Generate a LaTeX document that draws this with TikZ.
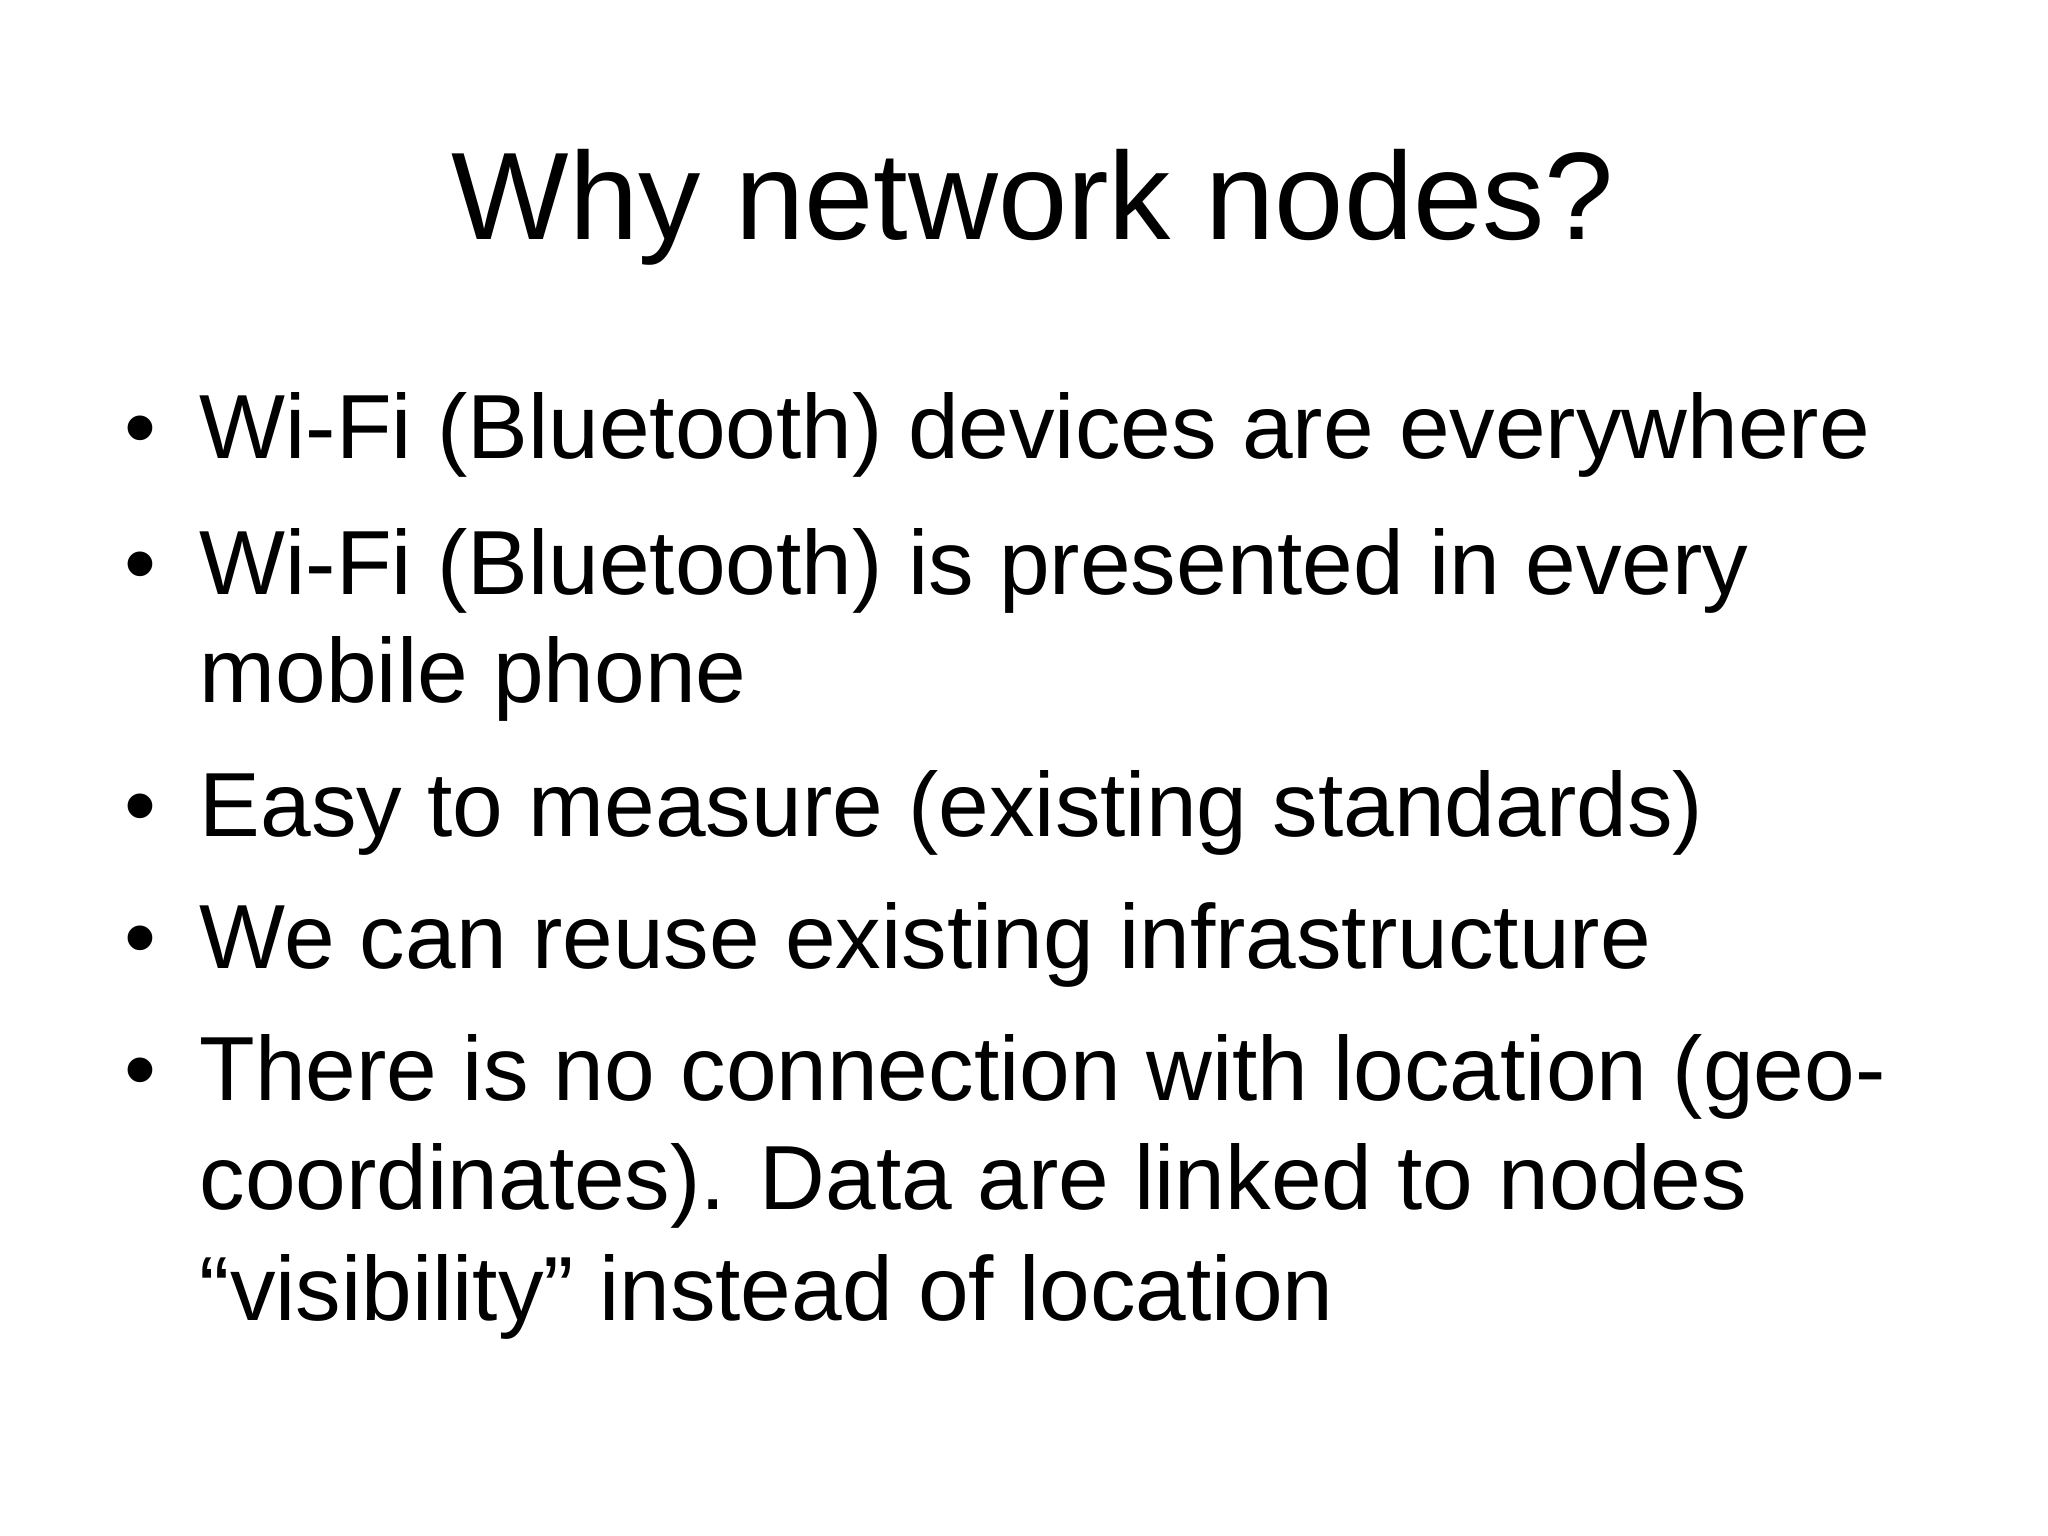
\documentclass[tikz,border=0pt]{standalone}
\usepackage{fontspec}
\setmainfont{Liberation Sans}
\begin{document}
\begin{tikzpicture}[x=0.01cm,y=0.01cm,
  ln/.style={anchor=base west,inner sep=0pt,font=\fontsize{25.9pt}{30pt}\selectfont},
  bul/.style={anchor=base west,inner sep=0pt,font=\fontsize{25.9pt}{30pt}\selectfont}]
\useasboundingbox[fill=white] (0,0) rectangle (2048,1536);
\node[anchor=base,inner sep=0pt,font=\fontsize{35.4pt}{40pt}\selectfont] (title) at (1033,1296) {Why network nodes?};
\node[bul] (b1) at (124,1077) {•};
\node[ln] (l1) at (199,1077) {Wi-Fi (Bluetooth) devices are everywhere};
\node[bul] (b2) at (124,941) {•};
\node[ln] (l2) at (199,941) {Wi-Fi (Bluetooth) is presented in every};
\node[ln] (l3) at (199,833) {mobile phone};
\node[bul] (b3) at (124,699) {•};
\node[ln] (l4) at (199,699) {Easy to measure (existing standards)};
\node[bul] (b4) at (124,567) {•};
\node[ln] (l5) at (199,567) {We can reuse existing infrastructure};
\node[bul] (b5) at (124,435) {•};
\node[ln] (l6) at (199,435) {There is no connection with location (geo-};
\node[ln] (l7) at (199,326) {coordinates). Data are linked to nodes};
\node[ln] (l8) at (199,215) {“visibility” instead of location};
\end{tikzpicture}
\end{document}
